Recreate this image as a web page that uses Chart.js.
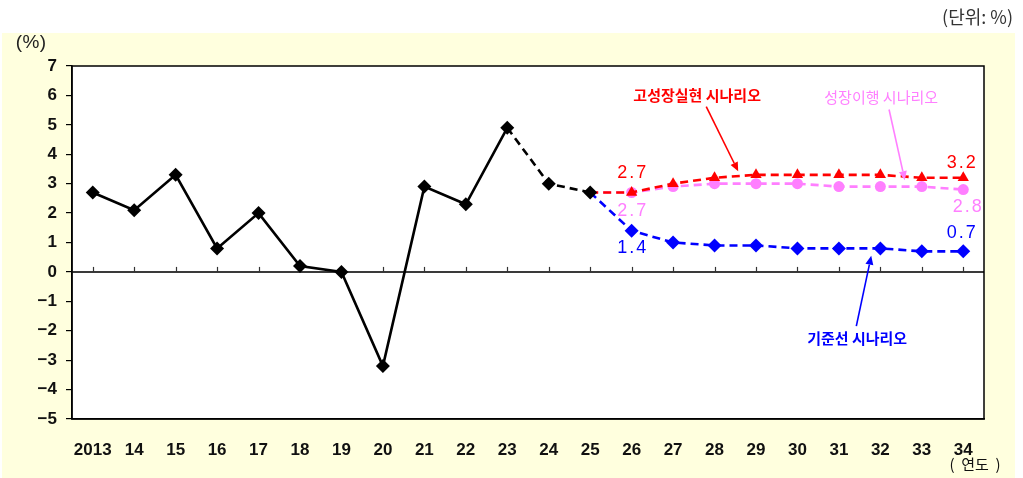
<!DOCTYPE html>
<html>
<head>
<meta charset="utf-8">
<script src="https://cdn.jsdelivr.net/npm/chart.js@4.4.1/dist/chart.umd.min.js"></script>
<style>
  html, body { margin: 0; padding: 0; background: #ffffff; }
  #wrap { position: relative; width: 1023px; height: 478px; }
  #c { position: absolute; left: 0; top: 0; }
</style>
</head>
<body>
<div id="wrap"><canvas id="c" width="1023" height="478"></canvas></div>
<script>
// Year labels (2013 onward, two-digit after the first)
const years = ['2013','14','15','16','17','18','19','20','21','22','23','24','25',
               '26','27','28','29','30','31','32','33','34'];

// Actual growth rate, 2013–2025
const actual = [2.7, 2.1, 3.3, 0.8, 2.0, 0.2, 0.0, -3.2, 2.9, 2.3, 4.9, 3.0, 2.7];

// Scenario paths, each starting from the 2025 value
const highGrowth = [null,null,null,null,null,null,null,null,null,null,null,null,
                    2.7, 2.7, 3.0, 3.2, 3.3, 3.3, 3.3, 3.3, 3.2, 3.2];
const transition = [null,null,null,null,null,null,null,null,null,null,null,null,
                    2.7, 2.7, 2.9, 3.0, 3.0, 3.0, 2.9, 2.9, 2.9, 2.8];
const baseline   = [null,null,null,null,null,null,null,null,null,null,null,null,
                    2.7, 1.4, 1.0, 0.9, 0.9, 0.8, 0.8, 0.8, 0.7, 0.7];

// Y axis tick values
const yTicks = [7, 6, 5, 4, 3, 2, 1, 0, -1, -2, -3, -4, -5];

const RED = '#ff0000', PINK = '#ff7fff', BLUE = '#0000ff', BLACK = '#000000';

// Value callouts: dataset, point index, pixel offset
const valueLabels = [
  { ds: 1, i: 13, dx: 0,  dy: -19, color: RED },
  { ds: 2, i: 13, dx: 0,  dy: 19,  color: PINK },
  { ds: 3, i: 13, dx: 0,  dy: 17,  color: BLUE },
  { ds: 1, i: 21, dx: -2, dy: -15, color: RED },
  { ds: 2, i: 21, dx: 4,  dy: 17,  color: PINK },
  { ds: 3, i: 21, dx: -2, dy: -18, color: BLUE }
];

// Scenario name callouts with arrows, in axis units (category index, value)
const callouts = [
  { text: '고성장실현 시나리오', color: RED,  bold: true,  at: [14.58, 6.02], from: [14.80, 5.62], to: [15.57, 3.42] },
  { text: '성장이행 시나리오',   color: PINK, bold: false, at: [19.02, 5.95], from: [19.21, 5.52], to: [19.59, 3.12] },
  { text: '기준선 시나리오',     color: BLUE, bold: true,  at: [18.44, -2.26], from: [18.42, -1.84], to: [18.78, 0.55] }
];

function xPix(scale, v) {
  const i0 = Math.floor(v), f = v - i0;
  const p0 = scale.getPixelForValue(i0);
  const p1 = scale.getPixelForValue(i0 + 1);
  return p0 + (p1 - p0) * f;
}

function spacedText(ctx, str, cx, cy, cell) {
  let x = cx - str.length * cell / 2 + cell / 2;
  for (const ch of str) { ctx.fillText(ch, x, cy); x += cell; }
}

function arrow(ctx, x1, y1, x2, y2, color) {
  const ang = Math.atan2(y2 - y1, x2 - x1);
  const hl = 9, hw = 4;
  const bx = x2 - hl * Math.cos(ang), by = y2 - hl * Math.sin(ang);
  ctx.strokeStyle = color; ctx.fillStyle = color; ctx.lineWidth = 1.6;
  ctx.beginPath(); ctx.moveTo(x1, y1); ctx.lineTo(bx, by); ctx.stroke();
  ctx.beginPath();
  ctx.moveTo(x2, y2);
  ctx.lineTo(bx + hw * Math.sin(ang), by - hw * Math.cos(ang));
  ctx.lineTo(bx - hw * Math.sin(ang), by + hw * Math.cos(ang));
  ctx.closePath(); ctx.fill();
}

const decor = {
  id: 'decor',
  beforeDraw(chart) {
    const { ctx, chartArea: a } = chart;
    ctx.save();
    ctx.fillStyle = '#ffffde';
    ctx.fillRect(2, 33, 1013, 445);
    ctx.fillStyle = '#ffffff';
    ctx.fillRect(a.left, a.top, a.right - a.left, a.bottom - a.top);
    // unit captions
    ctx.fillStyle = '#333333';
    ctx.font = '18px "Noto Sans CJK KR", sans-serif';
    ctx.textAlign = 'right'; ctx.textBaseline = 'middle';
    ctx.fillText('(단위: %)', 1013, 17);
    ctx.fillStyle = '#222222';
    ctx.textAlign = 'center';
    ctx.font = '19px "Liberation Sans", sans-serif';
    spacedText(ctx, '(%)', 31, 43, 12);
    ctx.font = '15px "Noto Sans CJK KR", sans-serif';
    ctx.fillStyle = '#111111';
    ctx.fillText('(  연도  )', 975, 464);
    ctx.restore();
  },
  beforeDatasetsDraw(chart) {
    const { ctx, chartArea: a, scales: { x, y } } = chart;
    const y0 = y.getPixelForValue(0);
    ctx.save();
    ctx.strokeStyle = '#3a3a3a'; ctx.lineWidth = 2;
    ctx.beginPath(); ctx.moveTo(a.left, y0); ctx.lineTo(a.right, y0); ctx.stroke();
    ctx.lineWidth = 1.2; ctx.strokeStyle = '#333333';
    for (let i = 0; i < years.length; i++) {
      const px = Math.round(x.getPixelForValue(i)) + 0.5;
      ctx.beginPath(); ctx.moveTo(px, y0 - 5); ctx.lineTo(px, y0); ctx.stroke();
    }
    ctx.restore();
  },
  afterDatasetsDraw(chart) {
    const { ctx, chartArea: a, scales: { x, y } } = chart;
    ctx.save();
    // frame
    ctx.strokeStyle = '#000000'; ctx.lineWidth = 1.5;
    ctx.strokeRect(a.left, a.top, a.right - a.left, a.bottom - a.top);
    // value labels
    ctx.font = '18px "Liberation Sans", sans-serif';
    ctx.textAlign = 'center'; ctx.textBaseline = 'middle';
    for (const l of valueLabels) {
      const v = chart.data.datasets[l.ds].data[l.i];
      const px = x.getPixelForValue(l.i) + l.dx;
      const py = y.getPixelForValue(v) + l.dy;
      ctx.fillStyle = l.color;
      spacedText(ctx, v.toFixed(1), px, py, 9.5);
    }
    // scenario callouts
    for (const c of callouts) {
      ctx.fillStyle = c.color;
      ctx.font = (c.bold ? 'bold ' : '') + '15px "Noto Sans CJK KR", sans-serif';
      ctx.fillText(c.text, xPix(x, c.at[0]), y.getPixelForValue(c.at[1]));
      arrow(ctx, xPix(x, c.from[0]), y.getPixelForValue(c.from[1]),
                 xPix(x, c.to[0]), y.getPixelForValue(c.to[1]), c.color);
    }
    ctx.restore();
  }
};

const dash = [8, 5];

new Chart(document.getElementById('c'), {
  type: 'line',
  data: {
    labels: years,
    datasets: [
      {
        data: actual, order: 0,
        borderColor: BLACK, backgroundColor: BLACK, borderWidth: 2.6,
        pointStyle: 'rectRot', pointRadius: 7, pointBorderWidth: 0,
        segment: { borderDash: ctx => ctx.p0DataIndex >= 10 ? dash : undefined }
      },
      {
        data: highGrowth, order: 1,
        borderColor: RED, backgroundColor: RED, borderWidth: 2.6, borderDash: dash,
        pointStyle: 'triangle', pointRadius: ctx => ctx.dataIndex === 12 ? 0 : 6.5, pointBorderWidth: 0
      },
      {
        data: transition, order: 2,
        borderColor: PINK, backgroundColor: PINK, borderWidth: 2.6, borderDash: dash,
        pointStyle: 'circle', pointRadius: ctx => ctx.dataIndex === 12 ? 0 : 5.5, pointBorderWidth: 0
      },
      {
        data: baseline, order: 3,
        borderColor: BLUE, backgroundColor: BLUE, borderWidth: 2.6, borderDash: dash,
        pointStyle: 'rectRot', pointRadius: ctx => ctx.dataIndex === 12 ? 0 : 7, pointBorderWidth: 0
      }
    ]
  },
  options: {
    responsive: false,
    animation: false,
    spanGaps: false,
    layout: { padding: { left: 0, top: 66, right: 39, bottom: 0 } },
    plugins: { legend: { display: false }, tooltip: { enabled: false } },
    scales: {
      x: {
        offset: true,
        grid: { display: false },
        border: { display: true, color: '#000000', width: 1.5 },
        ticks: { color: '#111111', font: { family: '"Liberation Sans", sans-serif', size: 17, weight: 'bold' }, padding: 13, maxRotation: 0, autoSkip: false },
        afterFit: s => { s.height = 59; }
      },
      y: {
        min: Math.min(...yTicks), max: Math.max(...yTicks),
        afterBuildTicks: s => { s.ticks = yTicks.map(v => ({ value: v })); },
        grid: { drawOnChartArea: false, color: '#000000', tickColor: '#000000', tickLength: 6, lineWidth: 1.2 },
        border: { display: true, color: '#000000', width: 1.5 },
        ticks: {
          color: '#111111', padding: 9,
          font: { family: '"Liberation Sans", sans-serif', size: 17, weight: 'bold' },
          callback: v => v < 0 ? '\u2212' + Math.abs(v) : String(v)
        },
        afterFit: s => { s.width = 72; }
      }
    }
  },
  plugins: [decor]
});
</script>
</body>
</html>
